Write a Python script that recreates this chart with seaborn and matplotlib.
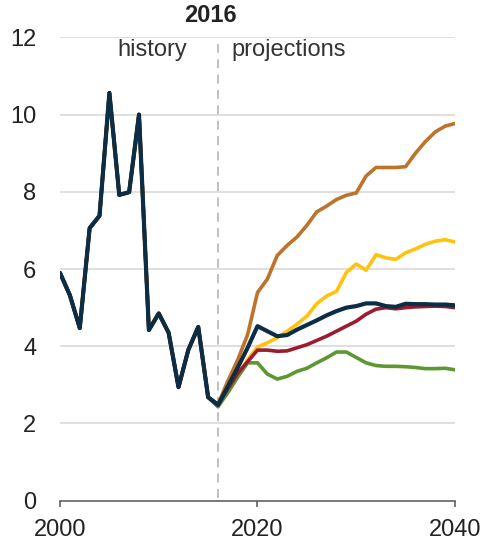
import pandas as pd
import matplotlib
matplotlib.use("Agg")
import matplotlib.pyplot as plt
import seaborn as sns

# history, 2000-2016
hist_years = list(range(2000, 2017))
history = [5.90, 5.32, 4.47, 7.06, 7.38, 10.56, 7.92, 7.99, 10.00, 4.42,
           4.85, 4.35, 2.94, 3.91, 4.50, 2.68, 2.47]

# projection cases, 2016-2040
proj_years = list(range(2016, 2041))
low_resource = [2.50, 3.10, 3.65, 4.30, 5.39, 5.74, 6.35, 6.61, 6.83, 7.13,
                7.48, 7.63, 7.80, 7.91, 7.97, 8.41, 8.63, 8.63, 8.63, 8.65,
                9.00, 9.30, 9.55, 9.70, 9.77]
high_oil_price = [2.45, 2.85, 3.25, 3.65, 3.98, 4.09, 4.22, 4.39, 4.57, 4.78,
                  5.10, 5.30, 5.42, 5.91, 6.13, 5.97, 6.37, 6.29, 6.25, 6.42,
                  6.52, 6.64, 6.72, 6.76, 6.70]
high_resource = [2.43, 2.80, 3.20, 3.57, 3.57, 3.28, 3.15, 3.22, 3.35, 3.43,
                 3.57, 3.70, 3.85, 3.85, 3.71, 3.57, 3.50, 3.48, 3.48, 3.47,
                 3.45, 3.42, 3.42, 3.43, 3.39]
high_growth = [2.48, 2.90, 3.30, 3.60, 3.90, 3.90, 3.87, 3.88, 3.96, 4.04,
               4.15, 4.26, 4.39, 4.52, 4.65, 4.83, 4.96, 5.00, 4.97, 5.00,
               5.02, 5.03, 5.04, 5.03, 5.00]
reference = [2.48, 2.96, 3.45, 3.96, 4.52, 4.39, 4.26, 4.29, 4.43, 4.55,
             4.67, 4.80, 4.91, 5.00, 5.04, 5.11, 5.11, 5.04, 5.02, 5.10,
             5.09, 5.09, 5.08, 5.08, 5.06]

cases = {"low_resource": low_resource, "high_oil_price": high_oil_price,
         "high_resource": high_resource, "high_growth": high_growth,
         "reference": reference}
colors = {"low_resource": "#BD732A", "high_oil_price": "#FFC20E",
          "high_resource": "#5D9732", "high_growth": "#9B1B30",
          "reference": "#0B2D45"}

rows = []
for name, vals in cases.items():
    ys = history[:-1] + vals
    for yr, v in zip(hist_years[:-1] + proj_years, ys):
        rows.append({"year": yr, "price": v, "case": name})
df = pd.DataFrame(rows)

sns.set_theme(style="white")
plt.rcParams["font.family"] = ["Liberation Sans", "DejaVu Sans"]

fig = plt.figure(figsize=(4.84, 5.4), dpi=100)
ax = fig.add_axes([0.124, 0.0728, 0.816, 0.858])

for name in cases:
    lw = 3.0 if name == "reference" else 2.6
    sns.lineplot(data=df[df["case"] == name], x="year", y="price",
                 color=colors[name], linewidth=lw, ax=ax, legend=False)

ax.set_xlim(2000, 2040)
ax.set_ylim(0, 12)
ax.set_xticks([2000, 2020, 2040])
ax.set_yticks([0, 2, 4, 6, 8, 10, 12])
ax.set_xlabel("")
ax.set_ylabel("")

for v in [2, 4, 6, 8, 10, 12]:
    ax.axhline(v, color="#D9D9D9", linewidth=1.2, zorder=0)

ax.axvline(2016, ymin=0.005, ymax=0.985, color="#BBBBBB", linewidth=1.3,
           linestyle=(0, (5, 3.5)), zorder=1)

for s in ["top", "right", "left"]:
    ax.spines[s].set_visible(False)
ax.spines["bottom"].set_color("#555555")
ax.spines["bottom"].set_linewidth(1.1)

ax.tick_params(axis="x", direction="out", length=4, width=1.1,
               color="#555555", labelsize=17, labelcolor="#222222", pad=9,
               bottom=True)
ax.tick_params(axis="y", length=0, labelsize=17, labelcolor="#222222", pad=17)

ax.text(2015.2, 12.39, "2016", ha="center", va="baseline", fontsize=17,
        fontweight="bold", color="#222222", clip_on=False)
ax.text(2012.9, 11.95, "history", ha="right", va="top", fontsize=17,
        color="#333333")
ax.text(2017.4, 11.95, "projections", ha="left", va="top", fontsize=17,
        color="#333333")

fig.savefig("out.png", dpi=100)
